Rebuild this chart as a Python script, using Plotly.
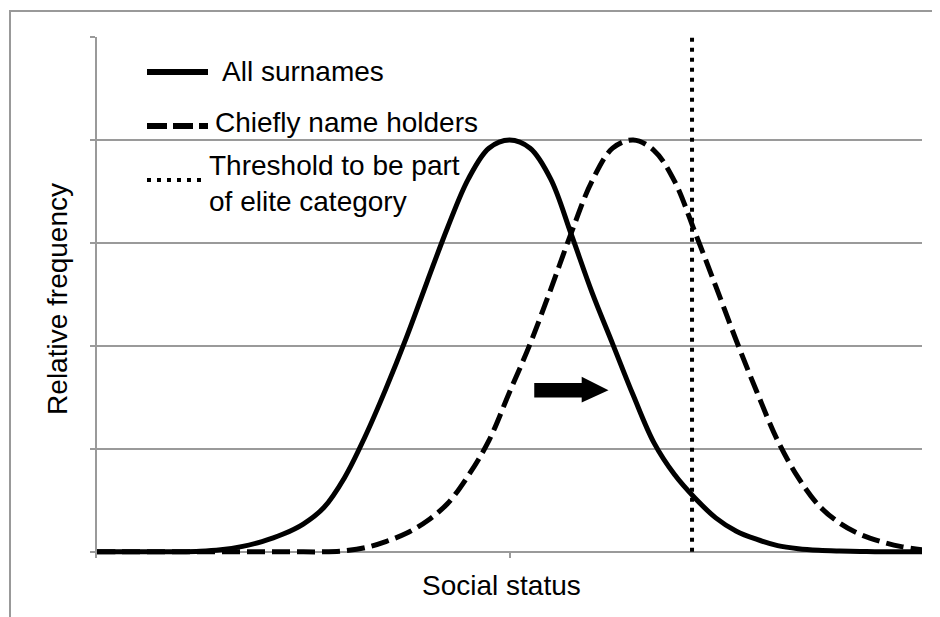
import plotly.graph_objects as go

# ---- data ----
social_status = list(range(41))
all_surnames = [0, 0, 0, 0, 0, 0.005, 0.02, 0.05, 0.10, 0.17, 0.27, 0.43, 0.72,
                1.12, 1.58, 2.08, 2.62, 3.15, 3.62, 3.92, 4.0, 3.92, 3.62, 3.08,
                2.52, 2.02, 1.52, 1.06, 0.75, 0.52, 0.33, 0.20, 0.12, 0.06, 0.03,
                0.015, 0.008, 0.004, 0, 0, 0]
chiefly_name_holders = [0] * 12 + [0.01, 0.04, 0.10, 0.18, 0.30, 0.47, 0.74, 1.08,
                                   1.55, 2.02, 2.55, 3.10, 3.60, 3.92, 4.0, 3.90,
                                   3.60, 3.10, 2.58, 2.05, 1.55, 1.08, 0.72, 0.45,
                                   0.28, 0.17, 0.10, 0.05, 0.02]
threshold_status = 28.85
y_grid = [0, 1, 2, 3, 4, 5]
x_ticks = [0, 20, 40]
series_names = ["All surnames", "Chiefly name holders",
                "Threshold to be part<br>of elite category"]

# ---- geometry (page has an 8px body margin, so the figure is offset) ----
OFF = 8
W, H = 940 - OFF, 617 - OFF
L, R, T = 97 - OFF, 18, 37 - OFF
Y_RANGE = [-0.06, 5]
unit_px = 103.0
plot_h = (Y_RANGE[1] - Y_RANGE[0]) * unit_px
B = H - T - plot_h
plot_w = W - L - R

def pxx(x):
    return (x - OFF - L) / plot_w

def pxy(y):
    return (H - B - (y - OFF)) / plot_h

FONT = "Liberation Sans, Arial, sans-serif"
GRID = "#9a9a9a"
FRAME = "#999999"
DOT = "4px,6px"

fig = go.Figure()
fig.add_trace(go.Scatter(x=[threshold_status, threshold_status], y=[0, 5],
                         mode="lines", line=dict(color="black", width=4, dash=DOT),
                         showlegend=False, hoverinfo="skip"))
fig.add_trace(go.Scatter(x=social_status, y=all_surnames, mode="lines",
                         line=dict(color="black", width=5, shape="spline", smoothing=1),
                         showlegend=False))
fig.add_trace(go.Scatter(x=social_status, y=chiefly_name_holders, mode="lines",
                         line=dict(color="black", width=5, dash="18px,7px", shape="spline", smoothing=1),
                         showlegend=False))

shapes = []
# outer frame (only top and left edges fall inside the picture)
shapes.append(dict(type="rect", xref="paper", yref="paper", layer="below",
                   x0=pxx(10), x1=pxx(960), y0=pxy(640), y1=pxy(11),
                   line=dict(color=FRAME, width=2), fillcolor="rgba(0,0,0,0)"))
# legend samples
shapes.append(dict(type="line", xref="paper", yref="paper", x0=pxx(147), x1=pxx(208),
                   y0=pxy(72), y1=pxy(72), line=dict(color="black", width=6)))
shapes.append(dict(type="line", xref="paper", yref="paper", x0=pxx(147), x1=pxx(208),
                   y0=pxy(126), y1=pxy(126), line=dict(color="black", width=6, dash="20px,6px")))
shapes.append(dict(type="line", xref="paper", yref="paper", x0=pxx(147), x1=pxx(204),
                   y0=pxy(180), y1=pxy(180), line=dict(color="black", width=4, dash=DOT)))
# shift arrow
ax0, ax1, ax2 = 21.2, 23.5, 24.8
ay_lo, ay_hi, ah_lo, ah_hi, ay_mid = 1.50, 1.64, 1.45, 1.70, 1.57
shapes.append(dict(type="path", xref="x", yref="y",
                   path=(f"M {ax0},{ay_lo} L {ax1},{ay_lo} L {ax1},{ah_lo} L {ax2},{ay_mid} "
                         f"L {ax1},{ah_hi} L {ax1},{ay_hi} L {ax0},{ay_hi} Z"),
                   fillcolor="black", line=dict(color="black", width=0)))

annotations = [
    dict(text=series_names[0], x=pxx(220), y=pxy(72), xanchor="left", yanchor="middle"),
    dict(text=series_names[1], x=pxx(213), y=pxy(123), xanchor="left", yanchor="middle"),
    dict(text=series_names[2], x=pxx(207), y=pxy(184), xanchor="left", yanchor="middle", align="left"),
    dict(text="Social status", x=pxx(501), y=pxy(586), xanchor="center", yanchor="middle"),
    dict(text="Relative frequency", x=pxx(58), y=pxy(299), xanchor="center", yanchor="middle",
         textangle=-90),
]
for a in annotations:
    a.update(xref="paper", yref="paper", showarrow=False,
             font=dict(family=FONT, size=28, color="black"))

fig.update_layout(
    width=W, height=H,
    margin=dict(l=L, r=R, t=T, b=B, pad=0),
    paper_bgcolor="white", plot_bgcolor="white",
    showlegend=False,
    shapes=shapes, annotations=annotations,
    xaxis=dict(range=[0, 40], tickvals=x_ticks, showticklabels=False, showgrid=False,
               zeroline=False, showline=False, ticks="inside", ticklen=6,
               tickcolor=GRID, tickwidth=1.5),
    yaxis=dict(range=Y_RANGE, tickvals=y_grid, showticklabels=False, showgrid=True,
               gridcolor=GRID, gridwidth=2, zeroline=False, showline=True,
               linecolor=GRID, linewidth=1.5, ticks="outside", ticklen=5,
               tickcolor=GRID, tickwidth=1.5),
)
fig.write_html("out.html")
